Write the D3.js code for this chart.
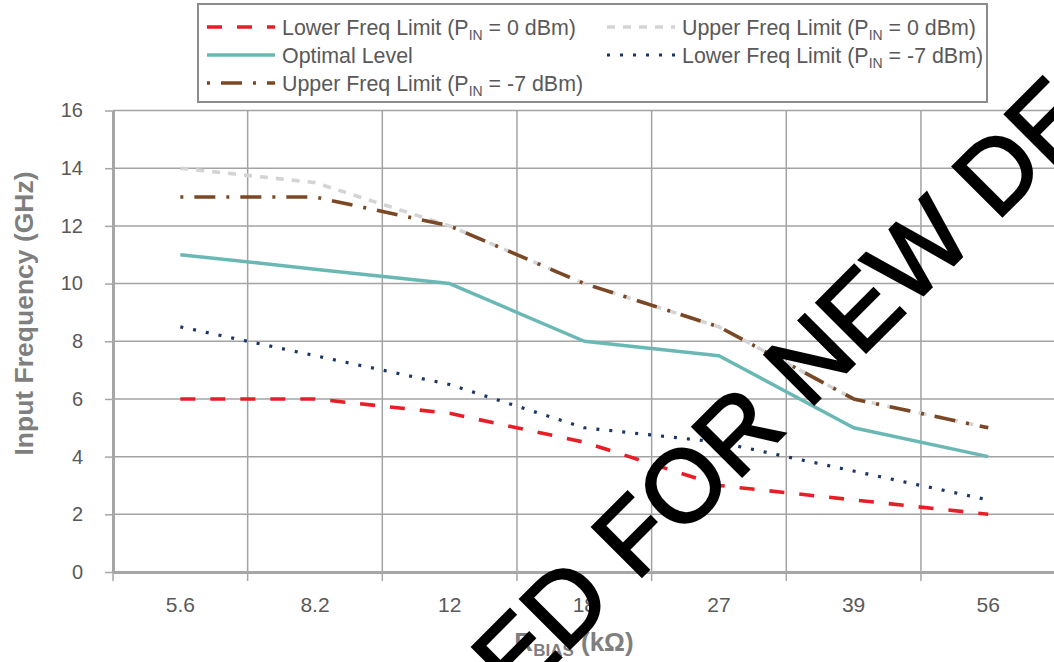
<!DOCTYPE html>
<html><head><meta charset="utf-8">
<script src="https://cdn.jsdelivr.net/npm/d3@7"></script>
<style>
body{margin:0;background:#fff}
svg{display:block}
text{font-family:"Liberation Sans",Arial,sans-serif}
</style>
</head><body>
<svg id="c" width="1054" height="662"></svg>
<script>
// ---- data ----
const categories = ["5.6", "8.2", "12", "18", "27", "39", "56"];
const lowerFreq0dBm  = [6, 6, 5.5, 4.5, 3, 2.5, 2];
const upperFreq0dBm  = [14, 13.5, 12, 10, 8.5, 6, 5];
const optimalLevel   = [11, 10.5, 10, 8, 7.5, 5, 4];
const lowerFreqM7dBm = [8.5, 7.5, 6.5, 5, 4.5, 3.5, 2.5];
const upperFreqM7dBm = [13, 13, 12, 10, 8.5, 6, 5];
const yTicks = [0, 2, 4, 6, 8, 10, 12, 14, 16];
const legendLabels = [
  ["Lower Freq Limit (P", "IN", " = 0 dBm)"],
  ["Upper Freq Limit (P", "IN", " = 0 dBm)"],
  ["Optimal Level", "", ""],
  ["Lower Freq Limit (P", "IN", " = -7 dBm)"],
  ["Upper Freq Limit (P", "IN", " = -7 dBm)"]
];
const xTitle = ["R", "BIAS", " (kΩ)"];
const yTitle = "Input Frequency (GHz)";
const watermark = ["NOT RECOMMENDED", "FOR NEW DESIGNS"];

// ---- styles ----
const seriesStyles = [
  {values: lowerFreq0dBm,  color: "#e61e27", width: 3.6, dash: "15,15"},
  {values: upperFreq0dBm,  color: "#d4d4d4", width: 3.6, dash: "8,8"},
  {values: optimalLevel,   color: "#6ab8b4", width: 3.5, dash: null},
  {values: lowerFreqM7dBm, color: "#1b3566", width: 3.2, dash: "3,10"},
  {values: upperFreqM7dBm, color: "#7a4825", width: 3.6, dash: "3,11,21,11"}
];

const svg = d3.select("#c");
const x = d3.scaleBand().domain(categories).range([113, 1055.6]).padding(0);
const y = d3.scaleLinear().domain([0, 16]).range([572, 110.5]);
const gridColor = "#a3a3a3";
const axisColor = "#a6a6a6";
const labelColor = "#595959";
const titleColor = "#7f7f7f";

// horizontal gridlines
svg.append("g").selectAll("line").data(yTicks.filter(t => t > 0)).join("line")
  .attr("x1", x.range()[0]).attr("x2", 1054)
  .attr("y1", d => y(d)).attr("y2", d => y(d))
  .attr("stroke", gridColor).attr("stroke-width", 1.5);

// vertical gridlines at category boundaries
const bounds = categories.slice(1).map(c => x(c)).concat([x.range()[1]]);
svg.append("g").selectAll("line").data(bounds).join("line")
  .attr("x1", d => d).attr("x2", d => d)
  .attr("y1", y(16)).attr("y2", y(0))
  .attr("stroke", gridColor).attr("stroke-width", 1.5);

// series
const line = d3.line()
  .x((d, i) => x(categories[i]) + x.bandwidth() / 2)
  .y(d => y(d));
svg.append("g").selectAll("path").data(seriesStyles).join("path")
  .attr("d", s => line(s.values))
  .attr("fill", "none")
  .attr("stroke", s => s.color)
  .attr("stroke-width", s => s.width)
  .attr("stroke-dasharray", s => s.dash)
  .attr("stroke-linejoin", "round");

// y axis
const yAxis = svg.append("g").attr("transform", `translate(${x.range()[0]},0)`)
  .call(d3.axisLeft(y).tickValues(yTicks).tickSize(8).tickSizeOuter(0).tickPadding(22));
yAxis.select(".domain").attr("stroke", axisColor).attr("stroke-width", 3);
yAxis.selectAll(".tick line").attr("stroke", axisColor).attr("stroke-width", 1.5);
yAxis.selectAll(".tick text").attr("fill", labelColor).style("font-size", "20px")
  .style("font-family", '"Liberation Sans",Arial,sans-serif');

// x axis
const xAxis = svg.append("g").attr("transform", `translate(0,${y(0)})`)
  .call(d3.axisBottom(x).tickSize(0).tickSizeOuter(0).tickPadding(25.5));
xAxis.select(".domain").attr("stroke", axisColor).attr("stroke-width", 3);
xAxis.selectAll(".tick text").attr("fill", labelColor).style("font-size", "21px")
  .style("font-family", '"Liberation Sans",Arial,sans-serif');
svg.append("g").selectAll("line").data([x.range()[0]].concat(bounds)).join("line")
  .attr("x1", d => d).attr("x2", d => d)
  .attr("y1", y(0)).attr("y2", y(0) + 9)
  .attr("stroke", axisColor).attr("stroke-width", 1.5);

// axis titles
svg.append("text")
  .attr("transform", "translate(33,313.5) rotate(-90)")
  .attr("text-anchor", "middle")
  .attr("fill", titleColor).attr("font-weight", "bold").style("font-size", "26.5px")
  .text(yTitle);

const xt = svg.append("text")
  .attr("x", 574).attr("y", 651).attr("text-anchor", "middle")
  .attr("fill", titleColor).attr("font-weight", "bold").style("font-size", "26px");
xt.append("tspan").text(xTitle[0]);
xt.append("tspan").attr("dy", 5).style("font-size", "17px").text(xTitle[1]);
xt.append("tspan").attr("dy", -5).style("font-size", "26px").text(xTitle[2]);

// legend
svg.append("rect").attr("x", 198).attr("y", 4).attr("width", 789).attr("height", 98)
  .attr("fill", "#fff").attr("stroke", "#8c8c8c").attr("stroke-width", 2);
const legendPos = [[207, 27], [607, 27], [207, 55], [607, 55], [207, 83]];
seriesStyles.forEach((s, i) => {
  const [lx, ly] = legendPos[i];
  svg.append("line").attr("x1", lx).attr("x2", lx + 68).attr("y1", ly).attr("y2", ly)
    .attr("stroke", s.color).attr("stroke-width", s.width)
    .attr("stroke-dasharray", s.dash);
  const t = svg.append("text").attr("x", lx + 75).attr("y", ly).attr("dy", "0.36em")
    .attr("fill", labelColor).style("font-size", "21.4px");
  const [a, b, c] = legendLabels[i];
  t.append("tspan").text(a);
  if (b) {
    t.append("tspan").attr("dy", 5).style("font-size", "14px").text(b);
    t.append("tspan").attr("dy", -5).style("font-size", "21.4px").text(c);
  }
});

// watermark
const wm = svg.append("g").attr("transform", "translate(636,582.5) rotate(-45)")
  .attr("fill", "#000").attr("stroke", "#000").attr("stroke-width", 2.5)
  .style("font-size", "102px");
wm.append("text").attr("x", -28).attr("text-anchor", "end").text(watermark[0]);
wm.append("text").attr("x", 0).attr("text-anchor", "start").text(watermark[1]);
</script>
</body></html>
